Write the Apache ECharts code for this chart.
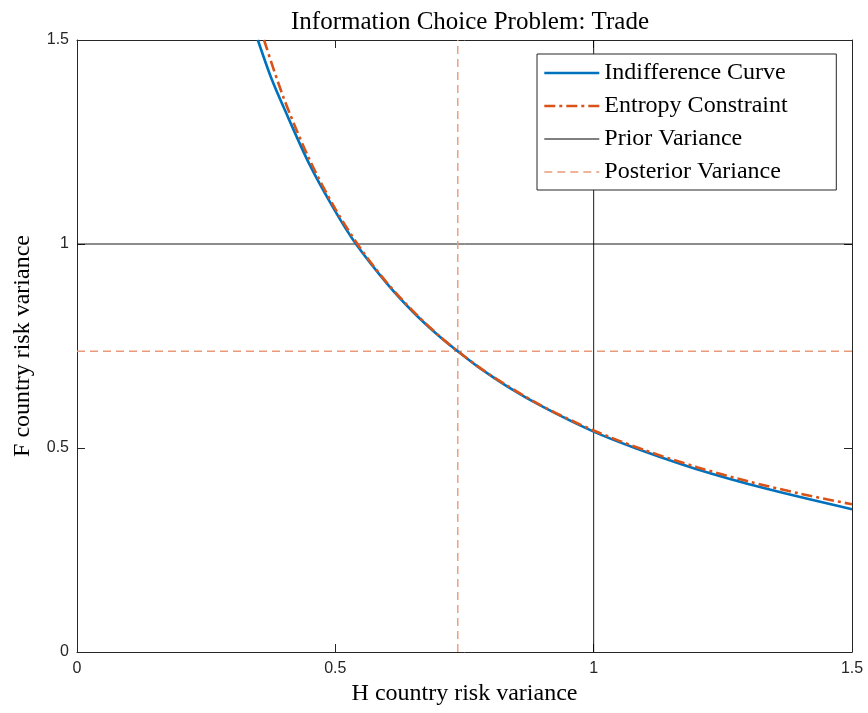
<!DOCTYPE html>
<html>
<head>
<meta charset="utf-8">
<script src="https://cdn.jsdelivr.net/npm/echarts@6/dist/echarts.min.js"></script>
<style>html,body{margin:0;padding:0;background:#fff}#c{width:868px;height:713px}</style>
</head>
<body>
<div id="c"></div>
<script>
// Indifference curve
const blueX = [0.350,0.375,0.40,0.45,0.50,0.54,0.60,0.65,0.70,0.737,0.775,0.834,0.903,1.0,1.08,1.195,1.335,1.5];
const blueY = [1.500,1.410,1.335,1.195,1.080,1.000,0.903,0.834,0.775,0.737,0.700,0.650,0.600,0.540,0.500,0.450,0.400,0.350];
// Entropy constraint
const orangeX = [0.362,0.40,0.45,0.50,0.55,0.60,0.65,0.70,0.737,0.80,0.90,1.0,1.1,1.2,1.3,1.4,1.5];
const orangeY = [1.500,1.358,1.207,1.086,0.987,0.905,0.836,0.776,0.737,0.679,0.603,0.543,0.494,0.453,0.418,0.388,0.362];
// Reference levels
const priorVariance = 1.0;
const posteriorVariance = 0.737;
const axisMin = 0, axisMax = 1.5;
const xTicks = ['0','0.5','1','1.5'];
const yTicks = ['0','0.5','1','1.5'];

const serif = 'Liberation Serif';
const zip = (xs, ys) => xs.map((x, i) => [x, ys[i]]);
const axCol = '#262626';
const postCol = '#EA9A78';

const chart = echarts.init(document.getElementById('c'));
const baseAxis = {
  type: 'value', min: axisMin, max: axisMax, interval: 0.5,
  splitLine: {show: false},
  axisLine: {show: true, onZero: false, lineStyle: {color: axCol, width: 1}},
  axisTick: {show: true, inside: true, length: 8, lineStyle: {color: axCol}}
};
chart.setOption({
  animation: false,
  title: {
    text: 'Information Choice Problem: Trade', left: 465, top: 5, textAlign: 'center',
    textStyle: {fontFamily: serif, fontWeight: 'normal', fontSize: 25, color: '#000'}
  },
  grid: {left: 77, right: 16, top: 40, bottom: 61},
  legend: {
    orient: 'vertical', left: 537, top: 54,
    backgroundColor: '#fff', borderColor: axCol, borderWidth: 1,
    padding: [7, 6, 6, 6], itemWidth: 55, itemHeight: 14, itemGap: 9, itemTextGap: 4,
    itemStyle: {opacity: 0},
    data: [
      {name: 'Indifference Curve', lineStyle: {width: 2.6}},
      {name: 'Entropy Constraint', lineStyle: {width: 2.6}},
      {name: 'Prior Variance', lineStyle: {width: 1}},
      {name: 'Posterior Variance', lineStyle: {width: 1.4}}
    ],
    textStyle: {fontFamily: serif, fontSize: 24, color: '#000', lineHeight: 23, width: 226, overflow: 'none'}
  },
  xAxis: [
    Object.assign({}, baseAxis, {
      position: 'bottom',
      name: 'H country risk variance', nameLocation: 'middle', nameGap: 28,
      nameTextStyle: {fontFamily: serif, fontSize: 24, color: '#000'},
      axisLabel: {margin: 9, fontFamily: 'Liberation Sans', fontSize: 16, color: axCol,
        formatter: (v) => xTicks[Math.round(v / 0.5)]}
    }),
    Object.assign({}, baseAxis, {position: 'top', axisLabel: {show: false}})
  ],
  yAxis: [
    Object.assign({}, baseAxis, {
      position: 'left',
      name: 'F country risk variance', nameLocation: 'middle', nameGap: 42,
      nameTextStyle: {fontFamily: serif, fontSize: 24, color: '#000'},
      axisLabel: {margin: 8, fontFamily: 'Liberation Sans', fontSize: 16, color: axCol,
        formatter: (v) => yTicks[Math.round(v / 0.5)]}
    }),
    Object.assign({}, baseAxis, {position: 'right', axisLabel: {show: false}})
  ],
  series: [
    {name: 'Indifference Curve', type: 'line', data: zip(blueX, blueY), smooth: 0.3,
      showSymbol: false, symbol: 'none', lineStyle: {color: '#0072BD', width: 2.6}, itemStyle: {color: '#0072BD'}, z: 3},
    {name: 'Entropy Constraint', type: 'line', data: zip(orangeX, orangeY), smooth: 0.3,
      showSymbol: false, symbol: 'none', lineStyle: {color: '#D95319', width: 2.6, type: [11, 4, 3, 4]}, itemStyle: {color: '#D95319'}, z: 4},
    {name: 'Prior Variance', type: 'line', data: [[priorVariance, axisMin], [priorVariance, axisMax]],
      symbol: 'none', lineStyle: {color: '#000', width: 0.9}, itemStyle: {color: '#000'}, z: 2},
    {name: 'Prior Variance', type: 'line', data: [[axisMin, priorVariance], [axisMax, priorVariance]],
      symbol: 'none', lineStyle: {color: '#000', width: 0.9}, itemStyle: {color: '#000'}, z: 2},
    {name: 'Posterior Variance', type: 'line', data: [[posteriorVariance, axisMin], [posteriorVariance, axisMax]],
      symbol: 'none', lineStyle: {color: postCol, width: 1.4, type: [8, 5]}, itemStyle: {color: postCol}, z: 2},
    {name: 'Posterior Variance', type: 'line', data: [[axisMin, posteriorVariance], [axisMax, posteriorVariance]],
      symbol: 'none', lineStyle: {color: postCol, width: 1.4, type: [8, 5]}, itemStyle: {color: postCol}, z: 2}
  ]
});
</script>
</body>
</html>
